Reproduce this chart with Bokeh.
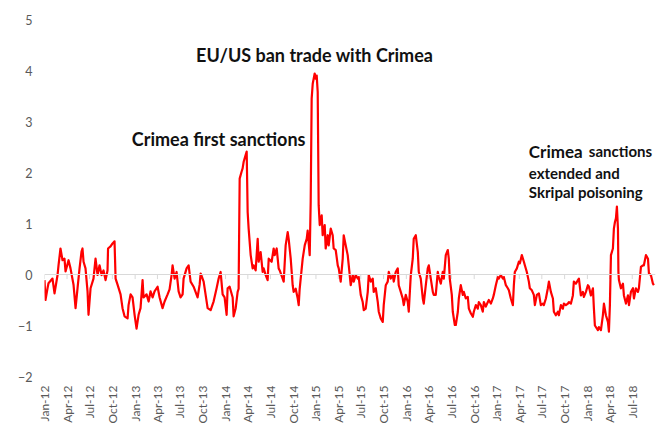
import math
import numpy as np
import pandas as pd
from bokeh.plotting import figure
from bokeh.models import Range1d, FixedTicker, DatetimeTickFormatter, Span, Label
from bokeh.embed import file_html
from bokeh.resources import INLINE

# ---- data ----
tick_labels = ["Jan-12", "Apr-12", "Jul-12", "Oct-12", "Jan-13", "Apr-13", "Jul-13", "Oct-13",
               "Jan-14", "Apr-14", "Jul-14", "Oct-14", "Jan-15", "Apr-15", "Jul-15", "Oct-15",
               "Jan-16", "Apr-16", "Jul-16", "Oct-16", "Jan-17", "Apr-17", "Jul-17", "Oct-17",
               "Jan-18", "Apr-18", "Jul-18"]
y_ticks = [-2, -1, 0, 1, 2, 3, 4, 5]

# months elapsed since 1 Jan 2012
months = [
    0.00, 0.13, 0.40, 0.53, 1.06, 1.33, 1.73, 1.86, 2.12, 2.39, 2.65, 2.79, 3.19, 3.45, 3.85, 4.12,
    4.38, 4.65, 4.91, 5.04, 5.18, 5.44, 5.71, 5.84, 6.11, 6.50, 6.77, 7.04, 7.30, 7.57, 7.83, 8.10,
    8.36, 8.43, 8.76, 9.03, 9.29, 9.43, 9.69, 10.09, 10.35, 10.62, 11.02, 11.15, 11.42, 11.68, 11.95,
    12.21, 12.48, 12.74, 13.01, 13.14, 13.54, 13.81, 14.07, 14.34, 14.60, 15.00, 15.27, 15.66, 15.93,
    16.33, 16.59, 16.86, 16.99, 17.26, 17.52, 17.79, 18.05, 18.32, 18.45, 18.85, 19.12, 19.38, 19.78,
    20.31, 20.58, 20.71, 21.11, 21.64, 22.04, 22.43, 22.83, 23.10, 23.36, 23.63, 23.89, 24.16, 24.29,
    24.56, 24.96, 25.09, 25.36, 25.62, 25.75, 25.89, 26.15, 26.28, 26.42, 26.68, 26.82, 26.95, 27.08,
    27.35, 27.61, 27.74, 28.01, 28.28, 28.41, 28.67, 28.94, 29.07, 29.34, 29.60, 29.74, 30.13, 30.40,
    30.53, 30.80, 31.06, 31.20, 31.59, 31.73, 31.99, 32.26, 32.39, 32.66, 32.92, 33.05, 33.32, 33.59,
    33.72, 33.85, 34.25, 34.52, 34.78, 34.91, 35.18, 35.31, 35.44, 35.58, 35.84, 35.98, 36.11, 36.24,
    36.37, 36.51, 36.77, 36.90, 37.17, 37.30, 37.57, 37.70, 37.97, 38.23, 38.36, 38.63, 38.90, 39.03,
    39.29, 39.56, 39.69, 39.96, 40.22, 40.36, 40.62, 40.89, 41.02, 41.28, 41.55, 41.68, 41.95, 42.21,
    42.35, 42.61, 42.88, 43.01, 43.28, 43.54, 43.67, 43.94, 44.21, 44.34, 44.60, 44.87, 45.00, 45.27,
    45.53, 45.67, 45.93, 46.20, 46.33, 46.59, 46.86, 46.99, 47.26, 47.52, 47.66, 47.92, 48.19, 48.32,
    48.59, 48.85, 48.98, 49.25, 49.52, 49.65, 49.91, 50.18, 50.31, 50.58, 50.84, 50.98, 51.24, 51.51,
    51.64, 51.90, 52.17, 52.30, 52.57, 52.83, 52.97, 53.23, 53.50, 53.63, 53.76, 54.03, 54.16, 54.43,
    54.56, 54.83, 54.96, 55.22, 55.49, 55.62, 55.89, 56.15, 56.29, 56.55, 56.82, 56.95, 57.22, 57.48,
    57.61, 57.88, 58.14, 58.28, 58.54, 58.81, 58.94, 59.21, 59.47, 59.60, 59.87, 60.14, 60.27, 60.53,
    60.80, 60.93, 61.20, 61.46, 61.60, 61.86, 62.13, 62.26, 62.39, 62.66, 62.92, 63.06, 63.32, 63.59,
    63.72, 63.98, 64.25, 64.38, 64.65, 64.91, 65.05, 65.31, 65.58, 65.84, 66.11, 66.24, 66.51, 66.77,
    66.91, 67.17, 67.44, 67.57, 67.83, 68.10, 68.23, 68.50, 68.76, 68.90, 69.16, 69.43, 69.56, 69.83,
    70.09, 70.22, 70.49, 70.76, 70.89, 71.15, 71.42, 71.55, 71.82, 72.08, 72.22, 72.48, 72.75, 72.88,
    73.01, 73.41, 73.54, 73.81, 74.07, 74.21, 74.47, 74.74, 74.87, 75.00, 75.14, 75.40, 75.53, 75.67,
    75.80, 75.93, 76.07, 76.13, 76.20, 76.46, 76.73, 76.86, 77.13, 77.39, 77.53, 77.79, 78.06, 78.19,
    78.45, 78.72, 78.85, 79.12, 79.38, 79.51, 79.78, 80.05, 80.18, 80.44, 80.71, 80.84,
]
values = [
    -0.11, -0.50, -0.27, -0.17, -0.08, -0.37, -0.01, 0.18, 0.51, 0.28, 0.31, 0.06, 0.28, 0.12, -0.20, -0.66,
    -0.27, 0.12, 0.45, 0.51, 0.25, 0.12, -0.33, -0.79, -0.27, -0.08, 0.31, -0.01, 0.18, -0.01, 0.08, -0.11,
    0.08, 0.51, 0.55, 0.61, 0.65, -0.08, -0.20, -0.39, -0.66, -0.82, -0.86, -0.60, -0.39, -0.45, -0.79,
    -1.06, -0.79, -0.66, -0.11, -0.45, -0.39, -0.53, -0.33, -0.45, -0.33, -0.24, -0.45, -0.66, -0.53,
    -0.39, -0.29, -0.01, 0.18, -0.08, 0.05, -0.33, -0.45, -0.39, -0.08, 0.12, 0.18, -0.14, -0.24,
    -0.45, -0.20, 0.02, -0.14, -0.66, -0.70, -0.53, -0.27, -0.08, 0.05, -0.39, -0.45, -0.79, -0.27,
    -0.24, -0.45, -0.82, -0.66, -0.34, -0.28, 1.88, 2.02, 2.08, 2.21, 2.34, 2.41, 1.22, 0.90,
    0.38, 0.12, 0.18, 0.08, 0.70, 0.25, 0.44, 0.05, 0.12, -0.01, -0.11, 0.31, 0.25, 0.51,
    0.38, 0.51, 0.12, 0.08, -0.08, -0.14, 0.57, 0.83, 0.70, 0.31, -0.21, -0.34, -0.28, -0.47,
    -0.60, -0.28, 0.31, 0.57, 0.70, 0.86, 0.38, 1.42, 3.45, 3.74, 3.94, 3.84, 3.90, 3.58,
    1.36, 0.97, 1.16, 0.77, 0.97, 0.51, 0.77, 0.57, 0.90, 0.77, 0.51, 0.48, 0.18, 0.12,
    -0.14, 0.31, 0.77, 0.57, 0.38, 0.18, -0.21, -0.01, -0.14, -0.01, -0.08, -0.05, -0.40, -0.54,
    -0.70, -0.67, -0.34, -0.01, -0.14, -0.08, -0.34, -0.27, -0.54, -0.73, -0.86, -0.93, -0.60, -0.21,
    -0.14, 0.05, -0.08, -0.01, -0.14, 0.05, 0.12, -0.21, -0.34, -0.47, -0.60, -0.40, -0.54, -0.73,
    -0.01, 0.31, 0.70, 0.77, 0.44, 0.05, -0.08, -0.47, -0.57, -0.21, 0.12, 0.18, -0.08, -0.34,
    -0.40, -0.40, 0.05, -0.05, -0.18, 0.05, -0.08, 0.38, 0.48, 0.31, -0.08, -0.40, -0.73, -0.99,
    -0.99, -0.73, -0.47, -0.21, -0.40, -0.34, -0.47, -0.44, -0.67, -0.76, -0.83, -0.73, -0.60, -0.67,
    -0.54, -0.60, -0.73, -0.54, -0.63, -0.54, -0.50, -0.57, -0.47, -0.40, -0.21, -0.05, -0.08, -0.01,
    -0.08, -0.05, -0.21, -0.27, -0.31, -0.47, -0.60, -0.21, 0.05, 0.12, 0.25, 0.22, 0.38, 0.25,
    0.18, 0.05, -0.14, -0.27, -0.31, -0.40, -0.60, -0.40, -0.37, -0.60, -0.57, -0.60, -0.47, -0.27,
    -0.14, -0.34, -0.47, -0.73, -0.80, -0.73, -0.80, -0.60, -0.67, -0.57, -0.60, -0.57, -0.54, -0.57,
    -0.41, -0.14, -0.18, -0.11, -0.08, -0.41, -0.34, -0.44, -0.34, -0.21, -0.24, -0.41, -0.27, -0.67,
    -1.00, -1.09, -1.03, -1.09, -0.80, -0.57, -0.80, -0.93, -1.12, -0.60, 0.38, 0.51, 0.90, 1.03,
    1.10, 1.33, 0.90, 0.05, -0.11, -0.27, -0.18, -0.41, -0.57, -0.41, -0.60, -0.34, -0.27, -0.47,
    -0.27, -0.34, -0.27, 0.15, 0.18, 0.18, 0.38, 0.31, 0.02, -0.01, -0.18, -0.21,
]

annotations = [
    # text, months, value, size, align
    ("EU/US ban trade with Crimea", 35.84, 4.30, "18px", "center"),
    ("Crimea first sanctions", 23.10, 2.65, "18px", "center"),
]

# ---- helpers ----
start = pd.Timestamp("2012-01-01")
epoch = pd.Timestamp("1970-01-01")


def month_to_ms(m):
    t = start + pd.to_timedelta(np.asarray(m, dtype=float) * 30.4375, unit="D")
    return (t - epoch) / pd.Timedelta(milliseconds=1)


x_ms = np.asarray(month_to_ms(months), dtype=float)
tick_dates = pd.to_datetime(tick_labels, format="%b-%y")
tick_ms = [float((d - epoch) / pd.Timedelta(milliseconds=1)) for d in tick_dates]

x_start = float(month_to_ms(0.0))
x_end = float(month_to_ms(81.05))

FONT = "Lato"
GREY = "#595959"

p = figure(width=660, height=426, x_axis_type="datetime",
           x_range=Range1d(x_start, x_end), y_range=Range1d(-2, 5),
           output_backend="svg", toolbar_location=None,
           min_border_left=44, min_border_right=5, min_border_top=19, min_border_bottom=48)
p.outline_line_color = None
p.xgrid.grid_line_color = None
p.ygrid.grid_line_color = None
p.background_fill_color = "white"
p.border_fill_color = "white"

fmt = "%b-%y"
p.xaxis.ticker = FixedTicker(ticks=tick_ms)
p.xaxis.formatter = DatetimeTickFormatter(microseconds=fmt, milliseconds=fmt, seconds=fmt, minsec=fmt,
                                          minutes=fmt, hourmin=fmt, hours=fmt, days=fmt, months=fmt,
                                          years=fmt)
p.xaxis.major_label_orientation = math.pi / 2
p.xaxis.axis_line_color = None
p.xaxis.major_tick_line_color = None
p.xaxis.minor_tick_line_color = None
p.xaxis.major_tick_out = 0
p.xaxis.major_tick_in = 0
p.xaxis.minor_tick_out = 0
p.xaxis.major_label_standoff = 9
p.xaxis.major_label_text_font = FONT
p.xaxis.major_label_text_font_size = "12px"
p.xaxis.major_label_text_color = GREY

p.yaxis.ticker = FixedTicker(ticks=y_ticks)
p.yaxis.axis_line_color = None
p.yaxis.major_tick_line_color = None
p.yaxis.minor_tick_line_color = None
p.yaxis.major_tick_out = 0
p.yaxis.major_tick_in = 0
p.yaxis.minor_tick_out = 0
p.yaxis.major_label_standoff = 12
p.yaxis.major_label_text_font = FONT
p.yaxis.major_label_text_font_size = "12.5px"
p.yaxis.major_label_text_color = GREY

# zero line with quarterly tick marks
p.add_layout(Span(location=0, dimension="width", line_color="#d9d9d9", line_width=1))
p.segment(x0=tick_ms, y0=[0] * len(tick_ms), x1=tick_ms, y1=[-0.09] * len(tick_ms),
          line_color="#d9d9d9", line_width=1)

p.line(x_ms, values, line_color="#ff0000", line_width=2.2, line_join="round")

for text, m, v, size, align in annotations:
    p.add_layout(Label(x=float(month_to_ms(m)), y=v, text=text, text_font=FONT,
                       text_font_style="bold", text_font_size=size, text_align=align,
                       text_baseline="middle", text_color="#111111"))

# third (multi-size) annotation
third_m = 64.25
p.add_layout(Label(x=float(month_to_ms(third_m)), y=2.42, text="Crimea", text_font=FONT,
                   text_font_style="bold", text_font_size="17px", text_baseline="middle",
                   text_color="#111111"))
p.add_layout(Label(x=float(month_to_ms(third_m)), y=2.42, x_offset=60, text="sanctions", text_font=FONT,
                   text_font_style="bold", text_font_size="15px", text_baseline="middle",
                   text_color="#111111"))
p.add_layout(Label(x=float(month_to_ms(third_m)), y=2.00, text="extended and", text_font=FONT,
                   text_font_style="bold", text_font_size="15px", text_baseline="middle",
                   text_color="#111111"))
p.add_layout(Label(x=float(month_to_ms(third_m)), y=1.61, text="Skripal poisoning", text_font=FONT,
                   text_font_style="bold", text_font_size="15px", text_baseline="middle",
                   text_color="#111111"))

open("out.html", "w").write(file_html(p, INLINE))
